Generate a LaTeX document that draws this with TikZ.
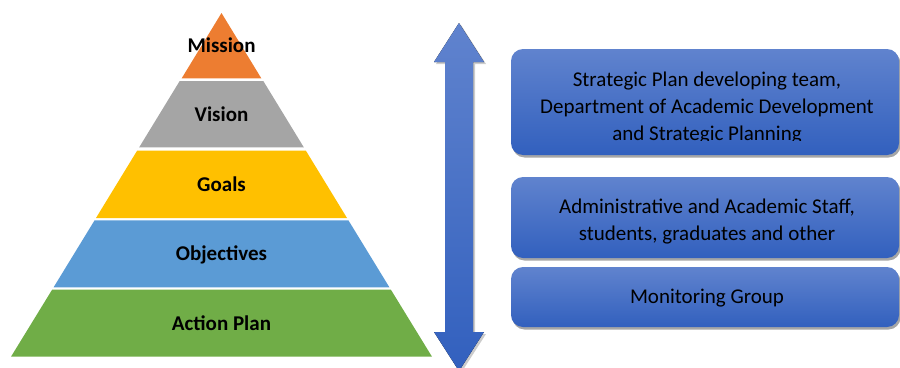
\documentclass[tikz,border=0pt]{standalone}
\usepackage{fontspec}
\setmainfont{Carlito}
\usetikzlibrary{shadows}
\definecolor{mis}{HTML}{ED7D31}
\definecolor{vis}{HTML}{A5A5A5}
\definecolor{goa}{HTML}{FFC000}
\definecolor{obj}{HTML}{5B9BD5}
\definecolor{act}{HTML}{70AD47}
\definecolor{boxtop}{RGB}{96,131,206}
\definecolor{boxbot}{RGB}{50,96,190}
\begin{document}
\begin{tikzpicture}[x=1pt,y=-1pt,
  lab/.style={font=\fontsize{21}{25}\selectfont\bfseries, text=black, inner sep=0pt},
  box/.style={rounded corners=12pt, minimum width=388pt, top color=boxtop, bottom color=boxbot, draw=none,
    drop shadow={shadow xshift=1.5pt, shadow yshift=-2.5pt, opacity=0.35, fill=black}},
  btxt/.style={font=\fontsize{21}{27}\selectfont, align=center, text=black, inner sep=0pt}]
\useasboundingbox (0,0) rectangle (900,367);
\clip (0,0) rectangle (900,367);
% pyramid
\fill[mis] (221.5,13) -- (261.3,78.3) -- (181.7,78.3) -- cycle;
\fill[vis] (179.7,81) -- (263.3,81) -- (303.8,147.3) -- (139.2,147.3) -- cycle;
\fill[goa] (137.1,150.7) -- (305.9,150.7) -- (347.0,218) -- (96.0,218) -- cycle;
\fill[obj] (94.6,220.3) -- (348.4,220.3) -- (389.4,287.3) -- (53.6,287.3) -- cycle;
\fill[act] (52.1,289.7) -- (390.9,289.7) -- (432,356.7) -- (11,356.7) -- cycle;
\node[lab] (mission) at (221.5,45) {Mission};
\node[lab] (vision) at (221.5,114) {Vision};
\node[lab] (goals) at (221.5,184) {Goals};
\node[lab] (objectives) at (221.5,255) {Objectives};
\node[lab] (action) at (221.5,323) {Action Plan};
% double arrow
\fill[black, opacity=0.2] (461,25) -- (486,64) -- (475,64) -- (475,334) -- (486,334) -- (461,373) -- (436,334) -- (447,334) -- (447,64) -- (436,64) -- cycle;
\fill[top color=boxtop, bottom color=boxbot] (459,23) -- (484,62) -- (473,62) -- (473,332) -- (484,332) -- (459,371) -- (434,332) -- (445,332) -- (445,62) -- (434,62) -- cycle;
% boxes
\node[box, minimum height=106pt] (b1) at (705,102) {};
\node[box, minimum height=81pt] (b2) at (705,217.5) {};
\node[box, minimum height=60pt] (b3) at (705,297) {};
\begin{scope}
\clip (500,40) rectangle (900,140.5);
\node[btxt] (t1) at (707,108) {Strategic Plan developing team,\\Department of Academic Development\\and Strategic Planning};
\end{scope}
\node[btxt] (t2) at (707,221.5) {Administrative and Academic Staff,\\students, graduates and other};
\node[btxt] (t3) at (707,298) {Monitoring Group};
\end{tikzpicture}
\end{document}
